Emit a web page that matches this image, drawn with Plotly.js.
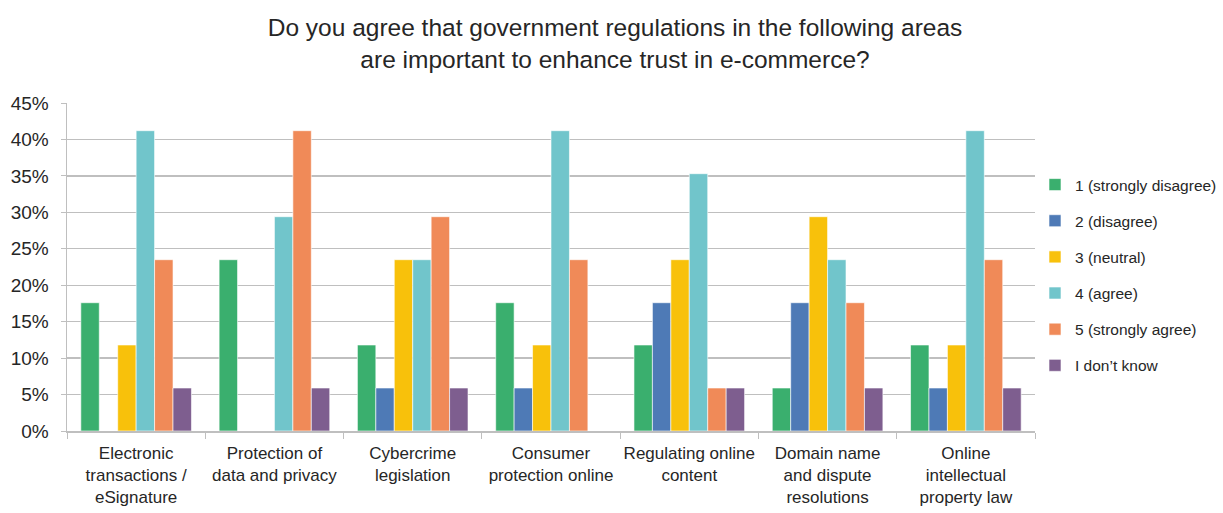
<!DOCTYPE html>
<html><head><meta charset="utf-8">
<script src="https://cdn.plot.ly/plotly-3.0.1.min.js"></script>
<style>html,body{margin:0;padding:0;background:#fff}#c{width:1223px;height:513px}</style>
</head><body><div id="c"></div>
<script>
const categories = [
  "Electronic<br>transactions /<br>eSignature",
  "Protection of<br>data and privacy",
  "Cybercrime<br>legislation",
  "Consumer<br>protection online",
  "Regulating online<br>content",
  "Domain name<br>and dispute<br>resolutions",
  "Online<br>intellectual<br>property law"
];
const seriesNames = ["1 (strongly disagree)","2 (disagree)","3 (neutral)","4 (agree)","5 (strongly agree)","I don\u2019t know"];
const s1 = [17.6, 23.5, 11.8, 17.6, 11.8, 5.9, 11.8];
const s2 = [0, 0, 5.9, 5.9, 17.6, 17.6, 5.9];
const s3 = [11.8, 0, 23.5, 11.8, 23.5, 29.4, 11.8];
const s4 = [41.2, 29.4, 23.5, 41.2, 35.3, 23.5, 41.2];
const s5 = [23.5, 41.2, 29.4, 23.5, 5.9, 17.6, 23.5];
const s6 = [5.9, 5.9, 5.9, 0, 5.9, 5.9, 5.9];
const yTickVals = [0,5,10,15,20,25,30,35,40,45];
const yTickText = ["0%","5%","10%","15%","20%","25%","30%","35%","40%","45%"];
const colors = ["#3AAF6E","#4E7AB6","#F8C10B","#71C5CB","#F08A58","#7E5E8F"];
const allSeries = [s1,s2,s3,s4,s5,s6];
const font = "'Liberation Sans', Arial, sans-serif";
const traces = allSeries.map((v,i)=>({
  type:'bar', x:categories, y:v, name:seriesNames[i], legendgroup:'g'+i,
  marker:{color:colors[i], line:{color:'#ffffff', width:0.6}},
  hoverinfo:'skip'
}));
const layout = {
  width:1223, height:513,
  margin:{l:67, r:184, t:103, b:82},
  paper_bgcolor:'#fff', plot_bgcolor:'#fff',
  barmode:'group', bargap:0.2, bargroupgap:0,
  title:{text:"Do you agree that government regulations in the following areas<br>are important to enhance trust in e-commerce?",
    x:615/1223, xref:'container', xanchor:'center', yref:'container', y:1-36/513, yanchor:'top',
    font:{family:font, size:24.5, color:'#262626'}},
  font:{family:font, size:17, color:'#262626'},
  xaxis:{type:'category', tickson:'boundaries', ticks:'outside', ticklen:6, tickcolor:'#bfbfbf',
    showline:true, linecolor:'#bfbfbf', linewidth:1.5, showgrid:false, tickangle:0, ticklabelstandoff:6,
    tickfont:{family:font, size:17, color:'#262626'}, automargin:false, fixedrange:true},
  yaxis:{range:[0,45], tickvals:yTickVals, ticktext:yTickText, showgrid:true, gridcolor:'#bfbfbf', gridwidth:1.3,
    ticks:'outside', ticklen:5, tickcolor:'#bfbfbf', showline:true, linecolor:'#bfbfbf', linewidth:1.5,
    ticklabelstandoff:8,
    zeroline:false, tickfont:{family:font, size:19, color:'#262626'}, automargin:false, fixedrange:true},
  legend:{xref:'container', x:1035/1223, xanchor:'left', yref:'container', y:1-275/513, yanchor:'middle',
    tracegroupgap:13, itemwidth:20, traceorder:'grouped',
    font:{family:font, size:15.5, color:'#262626'}},
  showlegend:true
};
Plotly.newPlot('c', traces, layout, {displayModeBar:false, staticPlot:true});
</script></body></html>
